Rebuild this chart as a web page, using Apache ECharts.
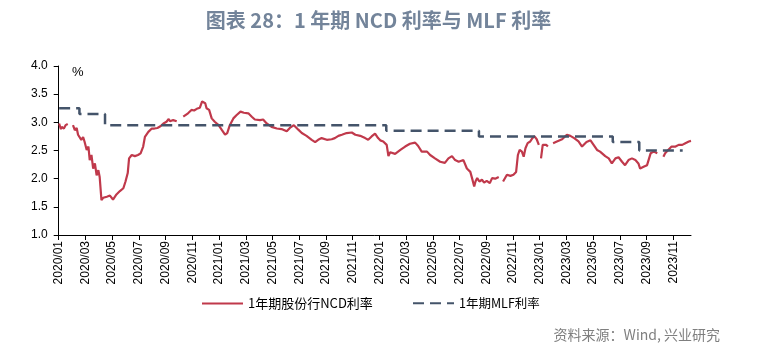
<!DOCTYPE html>
<html>
<head>
<meta charset="utf-8">
<script src="https://cdn.jsdelivr.net/npm/echarts@6/dist/echarts.min.js"></script>
<style>
html,body{margin:0;padding:0;background:#fff;}
#c{width:757px;height:356px;}
</style>
</head>
<body>
<div id="c"></div>
<script>
// ---- data ----
const ncdDates = [
'2020-01-02','2020-01-06','2020-01-08','2020-01-13','2020-01-17','2020-01-22','2020-01-28',
'2020-02-03','2020-02-07','2020-02-11','2020-02-14','2020-02-18','2020-02-21','2020-02-25','2020-02-28',
'2020-03-04','2020-03-08','2020-03-11','2020-03-15','2020-03-19','2020-03-23','2020-03-27','2020-03-31',
'2020-04-03','2020-04-07','2020-04-11','2020-04-19','2020-04-26',
'2020-05-03','2020-05-11','2020-05-19','2020-05-27',
'2020-06-01','2020-06-06','2020-06-09','2020-06-15','2020-06-22','2020-06-29',
'2020-07-05','2020-07-11','2020-07-15','2020-07-23','2020-07-31',
'2020-08-06','2020-08-13','2020-08-20','2020-08-27',
'2020-09-03','2020-09-08','2020-09-11','2020-09-18','2020-09-26','2020-10-01',
'2020-10-11','2020-10-22','2020-10-30',
'2020-11-05','2020-11-11','2020-11-18','2020-11-23','2020-11-30',
'2020-12-03','2020-12-09','2020-12-15','2020-12-22','2020-12-31',
'2021-01-07','2021-01-15','2021-01-20','2021-01-26',
'2021-02-03','2021-02-10','2021-02-18','2021-02-25',
'2021-03-07','2021-03-15','2021-03-22',
'2021-04-03','2021-04-10','2021-04-18','2021-04-29',
'2021-05-11','2021-05-22',
'2021-06-03','2021-06-10','2021-06-19','2021-06-29',
'2021-07-07','2021-07-18','2021-07-30',
'2021-08-07','2021-08-14','2021-08-22',
'2021-09-03','2021-09-14','2021-09-21','2021-09-29',
'2021-10-07','2021-10-18','2021-10-30',
'2021-11-07','2021-11-18','2021-11-29',
'2021-12-06','2021-12-14','2021-12-22','2021-12-29',
'2022-01-03','2022-01-10','2022-01-18','2022-01-22','2022-01-26',
'2022-02-06','2022-02-17','2022-02-27',
'2022-03-10','2022-03-22','2022-03-29',
'2022-04-06','2022-04-18','2022-04-25',
'2022-05-06','2022-05-18','2022-05-29',
'2022-06-06','2022-06-14','2022-06-21','2022-06-29',
'2022-07-10','2022-07-18','2022-07-22','2022-07-26','2022-07-30',
'2022-08-04','2022-08-07','2022-08-11','2022-08-16','2022-08-22','2022-08-27',
'2022-09-02','2022-09-09','2022-09-14','2022-09-21','2022-09-29','2022-10-04',
'2022-10-09','2022-10-18','2022-10-26',
'2022-11-02','2022-11-08','2022-11-12','2022-11-16','2022-11-21','2022-11-25',
'2022-11-29','2022-12-04','2022-12-10','2022-12-15','2022-12-20','2022-12-25','2022-12-30','2023-01-02',
'2023-01-04','2023-01-08','2023-01-12','2023-01-16','2023-01-20','2023-01-25',
'2023-02-01','2023-02-09','2023-02-20',
'2023-03-02','2023-03-10','2023-03-19','2023-03-29',
'2023-04-06','2023-04-16','2023-04-25',
'2023-05-02','2023-05-10','2023-05-17','2023-05-29',
'2023-06-06','2023-06-13','2023-06-21','2023-06-28',
'2023-07-06','2023-07-13','2023-07-21','2023-07-29',
'2023-08-06','2023-08-13','2023-08-17','2023-08-25',
'2023-09-02','2023-09-10','2023-09-17','2023-09-25','2023-10-02',
'2023-10-09','2023-10-13','2023-10-20','2023-10-28',
'2023-11-06','2023-11-13','2023-11-21','2023-11-28',
'2023-12-06','2023-12-11'
];
const ncdValues = [
2.98,2.88,2.92,2.89,2.95,2.97,null,
2.95,2.86,2.90,2.78,2.81,2.69,2.74,2.66,
2.51,2.57,2.33,2.42,2.18,2.27,2.06,2.15,
2.03,1.62,1.66,1.68,1.70,
1.63,1.72,1.78,1.83,
1.95,2.10,2.36,2.42,2.40,2.42,
2.45,2.57,2.74,2.83,2.89,
2.89,2.90,2.93,2.98,
3.01,3.06,3.02,3.04,3.02,null,
3.10,3.16,3.22,
3.21,3.24,3.26,3.37,3.34,
3.25,3.22,3.07,3.01,2.95,
2.87,2.78,2.81,2.95,
3.07,3.13,3.19,3.17,
3.16,3.10,3.05,
3.04,3.05,2.98,2.92,
2.89,2.88,
2.84,2.90,2.95,2.87,
2.81,2.76,2.69,
2.65,2.69,2.72,
2.69,2.70,2.72,2.76,
2.78,2.81,2.82,
2.78,2.76,2.72,
2.69,2.75,2.80,2.72,
2.68,2.66,2.60,2.40,2.47,
2.44,2.51,2.57,
2.62,2.64,2.58,
2.48,2.48,2.42,
2.36,2.30,2.28,
2.36,2.40,2.33,2.30,
2.33,2.18,2.21,2.12,2.01,
1.86,1.95,2.01,1.95,1.98,1.93,
1.96,1.92,2.01,2.00,2.03,null,
1.95,2.07,2.05,
2.07,2.12,2.42,2.51,2.48,2.39,
2.54,2.63,2.66,2.72,2.75,2.70,2.60,null,
2.36,2.60,2.58,2.60,2.57,null,
2.63,2.66,2.70,
2.78,2.76,2.72,2.66,
2.57,2.65,2.68,
2.60,2.51,2.48,2.40,
2.36,2.27,2.36,2.38,
2.30,2.24,2.33,2.36,
2.33,2.27,2.18,2.21,
2.24,2.45,2.48,2.45,null,
2.39,2.45,2.51,2.57,
2.57,2.60,2.60,2.63,
2.66,2.67
];
const mlfDates  = ['2020-01-02','2020-02-17','2020-04-15','2022-01-17','2022-08-15','2023-06-15','2023-08-15','2023-11-22'];
const mlfValues = [3.25, 3.15, 2.95, 2.85, 2.75, 2.65, 2.50, 2.50];
const tickMonths = [0,2,4,6,8,10,12,14,16,18,20,22,24,26,28,30,32,34,36,38,40,42,44,46];
const yTicks = [1.0,1.5,2.0,2.5,3.0,3.5,4.0];

// ---- helpers ----
function monthIndex(s){
  const p = s.split('-').map(Number);
  const dim = new Date(p[0], p[1], 0).getDate();
  return (p[0]-2020)*12 + (p[1]-1) + (p[2]-1)/dim;
}
function label(v){
  const r = Math.round(v);
  const y = 2020 + Math.floor(r/12);
  const m = r%12 + 1;
  return y + '/' + (m<10?'0':'') + m;
}
const ncd = ncdDates.map((d,i)=>[monthIndex(d), ncdValues[i]==null?'-':ncdValues[i]]);
const mlf = mlfDates.map((d,i)=>[monthIndex(d), mlfValues[i]]);
const xMax = monthIndex(ncdDates[ncdDates.length-1]);

const RED = '#c0394b', NAVY = '#44546a';
const chart = echarts.init(document.getElementById('c'));
chart.setOption({
  animation:false,
  backgroundColor:'#fff',
  title:{
    text:'图表 28：1 年期 NCD 利率与 MLF 利率',
    left:'center', top:5,
    textStyle:{fontFamily:'Noto Sans CJK SC', fontSize:20, fontWeight:'bold', color:'#73849a'}
  },
  grid:{left:58.7, right:66, top:66, bottom:121, containLabel:false},
  xAxis:{
    type:'value', min:0, max:xMax, interval:2,
    axisLine:{show:true, lineStyle:{color:'#000', width:1}},
    axisTick:{show:true, length:5, lineStyle:{color:'#000'}, customValues:tickMonths},
    axisLabel:{rotate:90, margin:6, fontSize:12, fontFamily:'Liberation Sans', color:'#000',
      customValues:tickMonths, formatter:label},
    splitLine:{show:false}
  },
  yAxis:{
    type:'value', min:yTicks[0], max:yTicks[yTicks.length-1], interval:0.5,
    axisLine:{show:true, lineStyle:{color:'#000', width:1}},
    axisTick:{show:true, length:5, lineStyle:{color:'#000'}},
    axisLabel:{margin:11, fontSize:12, fontFamily:'Liberation Sans', color:'#000',
      formatter:v=>v.toFixed(1)},
    splitLine:{show:false}
  },
  legend:[
    {data:['1年期股份行NCD利率'], left:201, top:297, padding:0, itemWidth:41, itemHeight:14,
     itemStyle:{opacity:0},
     textStyle:{fontFamily:'Noto Sans CJK SC', fontSize:13, color:'#000'}},
    {data:['1年期MLF利率'], left:412, top:297, padding:0, itemWidth:41, itemHeight:14,
     itemStyle:{opacity:0},
     textStyle:{fontFamily:'Noto Sans CJK SC', fontSize:12.5, color:'#000'}}
  ],
  graphic:[
    {type:'text', left:72, top:66, style:{text:'%', fontSize:13, fontFamily:'Liberation Sans', fill:'#000'}},
    {type:'text', right:37, top:328, style:{text:'资料来源：Wind, 兴业研究', fontSize:14, fontFamily:'Noto Sans CJK SC', fill:'#7f7f7f'}}
  ],
  series:[
    {name:'1年期股份行NCD利率', type:'line', data:ncd, symbol:'none', connectNulls:false,
     lineStyle:{color:RED, width:2.2}, itemStyle:{color:RED}, z:2},
    {name:'1年期MLF利率', type:'line', data:mlf, step:'end', symbol:'none',
     lineStyle:{color:NAVY, width:2.5, type:[11,6]}, itemStyle:{color:NAVY}, z:3}
  ]
});
</script>
</body>
</html>
